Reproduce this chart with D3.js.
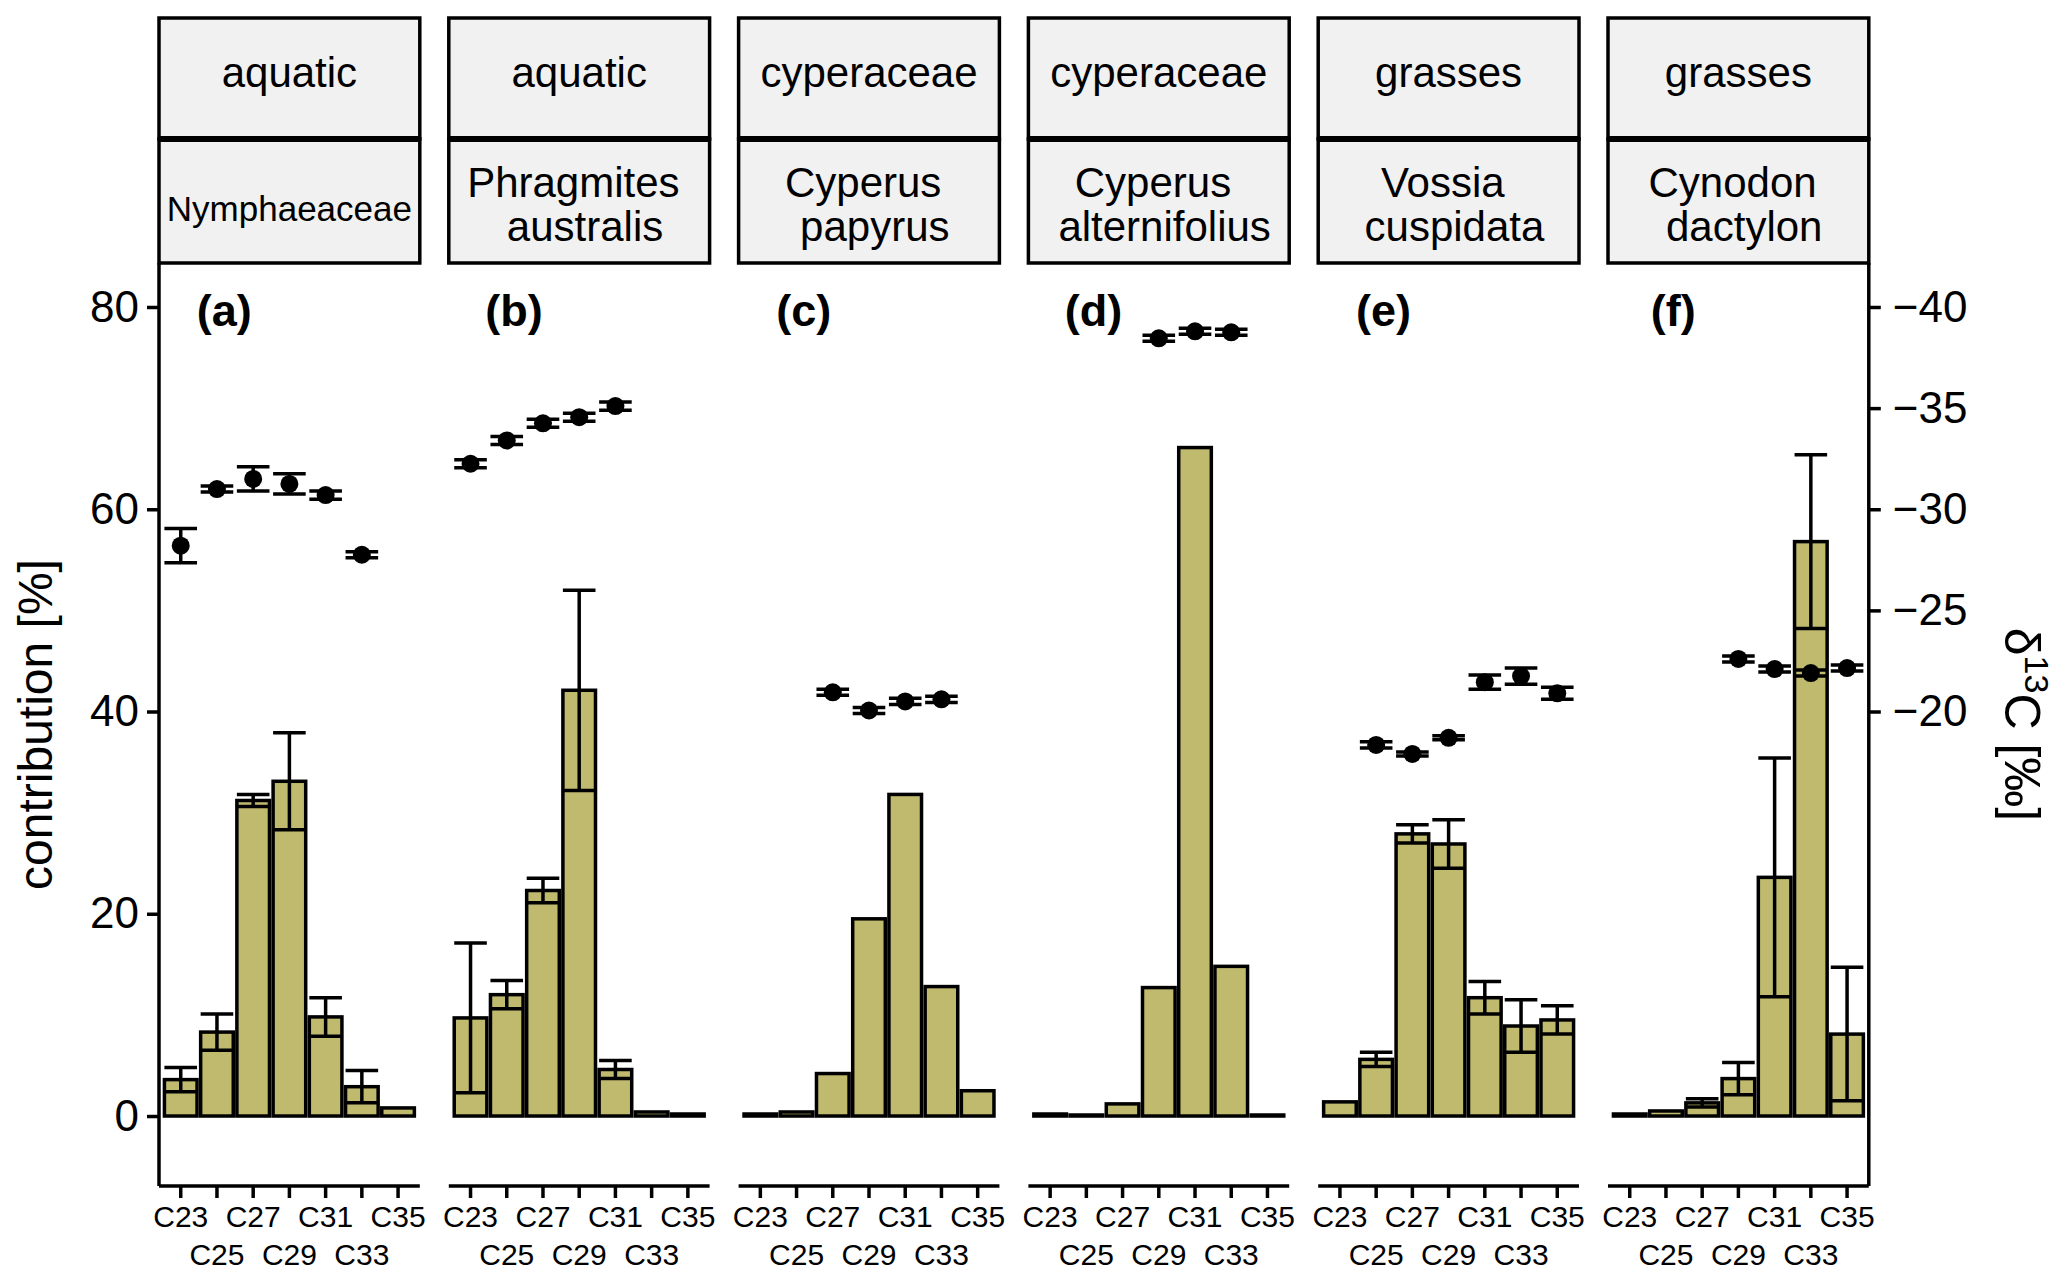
<!DOCTYPE html>
<html><head><meta charset="utf-8">
<script src="https://cdn.jsdelivr.net/npm/d3@7/dist/d3.min.js"></script>
<style>
html,body{margin:0;padding:0;background:#fff;}
svg{display:block;font-family:"Liberation Sans",Arial,Helvetica,sans-serif;}
text{white-space:pre;}
</style></head><body>
<svg id="chart" width="2067" height="1284"></svg>
<script>
// ---------------- DATA ----------------
const categories = ["C23","C25","C27","C29","C31","C33","C35"];
const groups = ["aquatic","aquatic","cyperaceae","cyperaceae","grasses","grasses"];
const species = [["Nymphaeaceae"],["Phragmites "," australis"],["Cyperus "," papyrus"],["Cyperus "," alternifolius"],["Vossia "," cuspidata"],["Cynodon "," dactylon"]];
const panelLabels = ["(a)","(b)","(c)","(d)","(e)","(f)"];

// contribution [%] mean and sd per panel (null = no error bar)
const contribA = [3.6, 8.3, 31.2, 33.1, 9.8, 2.9, 0.8];
const contribSdA = [1.2, 1.8, 0.6, 4.8, 1.9, 1.6, null];
const contribB = [9.7, 12.0, 22.3, 42.1, 4.6, 0.4, 0.2];
const contribSdB = [7.4, 1.4, 1.2, 9.9, 0.9, null, null];
const contribC = [0.2, 0.4, 4.2, 19.5, 31.8, 12.8, 2.5];
const contribSdC = [null, null, null, null, null, null, null];
const contribD = [0.2, 0.1, 1.2, 12.7, 66.1, 14.8, 0.1];
const contribSdD = [null, null, null, null, null, null, null];
const contribE = [1.4, 5.6, 27.9, 26.9, 11.7, 8.9, 9.5];
const contribSdE = [null, 0.7, 0.9, 2.4, 1.6, 2.6, 1.4];
const contribF = [0.2, 0.5, 1.3, 3.7, 23.6, 56.8, 8.1];
const contribSdF = [null, null, 0.4, 1.6, 11.8, 8.6, 6.6];

// d13C [permil] mean and sd per panel (null = not measured)
const d13cA = [-28.2, -31.0, -31.5, -31.25, -30.7, -27.75, null];
const d13cSdA = [0.85, 0.15, 0.6, 0.5, 0.2, 0.15, null];
const d13cB = [-32.25, -33.4, -34.25, -34.55, -35.1, null, null];
const d13cSdB = [0.2, 0.2, 0.2, 0.2, 0.2, null, null];
const d13cC = [null, null, -20.95, -20.05, -20.5, -20.6, null];
const d13cSdC = [null, null, 0.15, 0.15, 0.15, 0.15, null];
const d13cD = [null, null, null, -38.45, -38.8, -38.75, null];
const d13cSdD = [null, null, null, 0.15, 0.15, 0.15, null];
const d13cE = [null, -18.35, -17.9, -18.7, -21.45, -21.75, -20.9];
const d13cSdE = [null, 0.15, 0.1, 0.1, 0.35, 0.4, 0.3];
const d13cF = [null, null, null, -22.6, -22.1, -21.9, -22.15];
const d13cSdF = [null, null, null, 0.15, 0.15, 0.15, 0.15];

const leftTicks = [0, 20, 40, 60, 80];
const rightTicks = [-40, -35, -30, -25, -20];

const panels = [
  {c: contribA, cs: contribSdA, d: d13cA, ds: d13cSdA},
  {c: contribB, cs: contribSdB, d: d13cB, ds: d13cSdB},
  {c: contribC, cs: contribSdC, d: d13cC, ds: d13cSdC},
  {c: contribD, cs: contribSdD, d: d13cD, ds: d13cSdD},
  {c: contribE, cs: contribSdE, d: d13cE, ds: d13cSdE},
  {c: contribF, cs: contribSdF, d: d13cF, ds: d13cSdF}
];

// ---------------- LAYOUT ----------------
const svg = d3.select("#chart");
const plotTop = 263, plotBottom = 1186;
const firstLeft = 159, panelW = 260.8, gap = 29;
const stripTop = 18, stripMid = 139;
const barFill = "#bfba6e";
const lw = 3.5;
const FONT = "Liberation Sans, Arial, sans-serif";

// y scales: left = contribution, right = d13C (contribution = -2 * d13C)
const yMin = -6.92, yMax = 84.35;
const y = d3.scaleLinear().domain([yMin, yMax]).range([plotBottom, plotTop]);
const yR = d3.scaleLinear().domain([-yMin / 2, -yMax / 2]).range([plotBottom, plotTop]);

panels.forEach((p, i) => {
  const x0 = firstLeft + i * (panelW + gap);
  const x = d3.scaleBand().domain(categories).range([x0, x0 + panelW]).paddingInner(0).paddingOuter(0.1);
  const step = x.step();
  const bw = step * 0.9;
  const cx = c => x(c) + step / 2;
  const g = svg.append("g");

  // strips
  [[stripTop, stripMid], [stripMid, plotTop]].forEach(([a, b]) => {
    g.append("rect").attr("x", x0).attr("y", a).attr("width", panelW).attr("height", b - a)
      .attr("fill", "#f1f1f1").attr("stroke", "#000").attr("stroke-width", lw);
  });
  g.append("line").attr("x1", x0).attr("x2", x0 + panelW).attr("y1", stripMid).attr("y2", stripMid)
    .attr("stroke", "#000").attr("stroke-width", 6);
  g.append("text").attr("x", x0 + panelW / 2).attr("y", 87).attr("text-anchor", "middle")
    .attr("font-size", 42).text(groups[i]);
  const sp = species[i];
  if (sp.length === 1) {
    g.append("text").attr("x", x0 + panelW / 2).attr("y", 221).attr("text-anchor", "middle")
      .attr("font-size", 35).text(sp[0]);
  } else {
    sp.forEach((s, k) => {
      g.append("text").attr("x", x0 + panelW / 2).attr("y", 197 + k * 44).attr("text-anchor", "middle")
        .attr("font-size", 42).text(s);
    });
  }

  // bars
  const rows = categories.map((c, k) => ({cat: c, v: p.c[k], sd: p.cs[k], dv: p.d[k], dsd: p.ds[k]}));
  g.selectAll("rect.bar").data(rows).enter().append("rect").attr("class", "bar")
    .attr("x", r => cx(r.cat) - bw / 2).attr("width", bw)
    .attr("y", r => y(r.v)).attr("height", r => y(0) - y(r.v))
    .attr("fill", barFill).attr("stroke", "#000").attr("stroke-width", lw);

  // error bars
  const drawErr = (data, lo, hi) => {
    data.forEach(r => {
      const X = cx(r.cat);
      g.append("line").attr("x1", X).attr("x2", X).attr("y1", lo(r)).attr("y2", hi(r))
        .attr("stroke", "#000").attr("stroke-width", lw);
      [lo(r), hi(r)].forEach(yy => g.append("line").attr("x1", X - bw / 2).attr("x2", X + bw / 2)
        .attr("y1", yy).attr("y2", yy).attr("stroke", "#000").attr("stroke-width", lw));
    });
  };
  drawErr(rows.filter(r => r.sd !== null), r => y(r.v - r.sd), r => y(r.v + r.sd));

  // d13C points with error bars
  const pts = rows.filter(r => r.dv !== null);
  drawErr(pts, r => yR(r.dv - r.dsd), r => yR(r.dv + r.dsd));
  g.selectAll("circle.pt").data(pts).enter().append("circle").attr("class", "pt")
    .attr("cx", r => cx(r.cat)).attr("cy", r => yR(r.dv)).attr("r", 9).attr("fill", "#000");

  // panel label
  g.append("text").attr("x", x0 + (2.2 - 0.4) * step).attr("y", y(80)).attr("dy", "0.42em")
    .attr("text-anchor", "middle").attr("font-size", 45).attr("font-weight", "bold").text(panelLabels[i]);

  // bottom axis
  const ax = g.append("g").attr("transform", `translate(0,${plotBottom})`)
    .call(d3.axisBottom(x).tickSize(12).tickSizeOuter(0).tickPadding(8));
  ax.select(".domain").attr("stroke-width", lw).attr("d", `M${x0},0H${x0 + panelW}`);
  ax.selectAll(".tick line").attr("stroke-width", lw);
  ax.selectAll(".tick text").attr("font-size", 30).attr("fill", "#000").attr("font-family", FONT)
    .attr("dy", (d, k) => k % 2 === 0 ? "0.71em" : "1.95em");

  if (i === 0) {
    const ay = g.append("g").attr("transform", `translate(${x0},0)`)
      .call(d3.axisLeft(y).tickValues(leftTicks).tickSize(12).tickSizeOuter(0).tickPadding(8));
    ay.select(".domain").attr("stroke-width", lw).attr("d", `M0,${plotTop}V${plotBottom}`);
    ay.selectAll(".tick line").attr("stroke-width", lw);
    ay.selectAll(".tick text").attr("font-size", 44).attr("fill", "#000").attr("font-family", FONT);
  }
  if (i === panels.length - 1) {
    const ar = g.append("g").attr("transform", `translate(${x0 + panelW},0)`)
      .call(d3.axisRight(yR).tickValues(rightTicks).tickSize(12).tickSizeOuter(0).tickPadding(12)
        .tickFormat(d => d < 0 ? "\u2212" + Math.abs(d) : d));
    ar.select(".domain").attr("stroke-width", lw).attr("d", `M0,${plotTop}V${plotBottom}`);
    ar.selectAll(".tick line").attr("stroke-width", lw);
    ar.selectAll(".tick text").attr("font-size", 44).attr("fill", "#000").attr("font-family", FONT);
  }
});

// axis titles
const midY = (plotTop + plotBottom) / 2;
svg.append("text").attr("transform", `translate(52,${midY}) rotate(-90)`).attr("text-anchor", "middle")
  .attr("font-size", 48).text("contribution [%]");
const rt = svg.append("text").attr("transform", `translate(2005,${midY}) rotate(90)`).attr("text-anchor", "middle")
  .attr("font-size", 50);
rt.append("tspan").text("\u03B4");
rt.append("tspan").attr("font-size", 34).attr("dy", -20).text("13");
rt.append("tspan").attr("dy", 20).text("C [\u2030]");
</script>
</body></html>
